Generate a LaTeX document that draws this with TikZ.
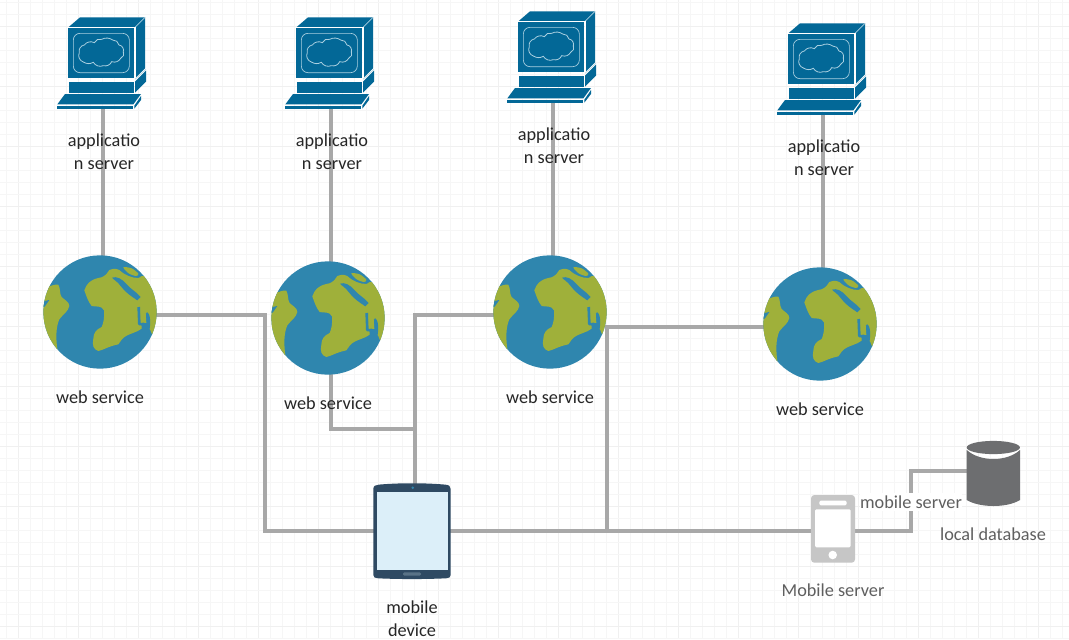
\documentclass[tikz,border=0pt]{standalone}
\usepackage{fontspec}
\setmainfont{Carlito}
\definecolor{gridminor}{HTML}{F6F6F6}
\definecolor{gridmajor}{HTML}{F0F0F0}
\definecolor{wire}{HTML}{A8A8A8}
\definecolor{pcblue}{HTML}{036897}
\definecolor{pcline}{HTML}{A9CFE0}
\definecolor{sea}{HTML}{2F86AE}
\definecolor{land}{HTML}{9FB03A}
\definecolor{tabframe}{HTML}{2F4A63}
\definecolor{tabscreen}{HTML}{DCEFF9}
\definecolor{tabbutton}{HTML}{5A7387}
\definecolor{phonegrey}{HTML}{C6C6C6}
\definecolor{dbgrey}{HTML}{6D6E70}
\definecolor{labelgrey}{HTML}{5F5F5F}
\tikzset{
  iconbox/.style={inner sep=0pt,outer sep=0pt,minimum width=#1*.75pt},
  wirepath/.style={draw=wire,line width=2.3pt,line join=miter},
  gridln/.style={draw=gridminor,line width=1pt},
  gridmj/.style={draw=gridmajor,line width=1pt},
  darklabel/.style={font=\fontsize{13.7pt}{17.25pt}\selectfont,text=black!85,align=center,inner sep=0pt},
  greylabel/.style={font=\fontsize{13.7pt}{17.25pt}\selectfont,text=labelgrey,align=center,inner sep=0pt},
}
\newcommand{\pcicon}[1]{%
\begin{scope}[shift={(#1.center)},x=.25pt,y=-.25pt,shift={(-189,-189)}]
  \fill[pcblue] (85,82)--(120,52)--(315,52)--(285,82)--cycle;
  \fill[pcblue] (285,82)--(315,52)--(315,205)--(285,235)--cycle;
  \fill[pcblue] (85,84) rectangle (283,235);
  \draw[pcline,line width=.5pt] (285,82)--(315,52);
  \draw[white,line width=.5pt] (85,82)--(285,82)--(285,235);
  \draw[pcline,line width=.5pt,rounded corners=5pt] (100,100) rectangle (268,218);
  \draw[pcline,line width=.6pt] (118,158) to[bend left=50] (133,135) to[bend left=40] (163,128) to[bend left=40] (185,118) to[bend left=30] (218,120) to[bend left=40] (237,135) to[bend left=50] (250,155) to[bend left=50] (242,175) to[bend left=40] (215,185) to[bend left=40] (190,197) to[bend left=40] (160,187) to[bend left=30] (130,186) to[bend left=50] (118,158);
  \fill[pcblue] (87,245) rectangle (283,278);
  \fill[pcblue] (285,245)--(318,212)--(318,245)--(285,278)--cycle;
  \draw[pcline,line width=.4pt] (285,238)--(318,208);
  \fill[pcblue] (52,313)--(75,282)--(303,282)--(280,313)--cycle;
  \fill[pcblue] (50,317) rectangle (280,326);
  \fill[pcblue] (283,317)--(303,288)--(303,300)--(283,326)--cycle;
\end{scope}}
\newcommand{\globeicon}[1]{%
\begin{scope}[shift={(#1.center)},x=.25pt,y=-.25pt,shift={(-210,-200)}]
  \fill[sea] (210,200) circle (170*.25pt);
  \begin{scope}
    \clip (210,200) circle (170*.25pt);
    \fill[land] (20,110)--(55,124) .. controls (68,120) and (78,116) .. (85,118)
      .. controls (92,130) and (88,145) .. (95,155)
      .. controls (105,165) and (118,170) .. (118,182)
      .. controls (115,198) and (98,208) .. (88,222)
      .. controls (78,245) and (76,280) .. (84,322)
      --(20,322)--cycle;
    \fill[sea] (30,170)--(58,164)--(44,184)--(30,186)--cycle;
    \fill[land] (400,92)--(335,92)--(326,98)
      .. controls (305,98) and (285,90) .. (268,74)
      .. controls (255,68) and (245,70) .. (238,74)
      .. controls (228,90) and (220,96) .. (205,98)
      .. controls (180,104) and (170,115) .. (163,135)
      .. controls (168,150) and (175,170) .. (185,182)
      .. controls (200,186) and (212,178) .. (222,195)
      .. controls (224,215) and (220,235) .. (215,245)
      .. controls (200,252) and (190,262) .. (190,280)
      .. controls (186,300) and (190,312) .. (205,317)
      .. controls (220,314) and (235,303) .. (265,297)
      .. controls (272,290) and (272,284) .. (282,276)
      .. controls (295,265) and (320,262) .. (335,250)
      --(360,252)--(368,272)--(400,300)--cycle;
    \fill[sea] (246,97) .. controls (260,92) and (275,100) .. (288,115) .. controls (300,130) and (320,140) .. (332,155) -- (322,165) .. controls (300,150) and (285,140) .. (272,122) .. controls (262,108) and (252,104) .. (246,97) -- cycle;
    \fill[land] plot[smooth cycle,tension=.5] coordinates {(280,66)(305,69)(325,85)(318,92)(296,84)};
    \draw[sea,line width=2pt,line join=round] (326,185)--(328,236)--(352,238)--(351,204);
    \fill[sea] (351,200) .. controls (362,205) and (362,235) .. (358,256)--(335,250)--(335,238)--cycle;
    \fill[land] (332,203)--(347,203)--(349,233)--(333,231)--cycle;
  \end{scope}
\end{scope}}
\begin{document}
\begin{tikzpicture}[x=.75pt,y=-.75pt]
\useasboundingbox (0,0) rectangle (1069,639);
\fill[white] (0,0) rectangle (1069,639);
\foreach \k in {0,...,89} {
  \pgfmathtruncatemacro{\m}{mod(\k,5)}
  \pgfmathsetmacro{\gx}{6.7+12*\k}
  \ifnum\m=1 \draw[gridmj] (\gx,0)--(\gx,639); \else \draw[gridln] (\gx,0)--(\gx,639); \fi
}
\foreach \k in {0,...,53} {
  \pgfmathtruncatemacro{\m}{mod(\k,5)}
  \pgfmathsetmacro{\gy}{2.7+12*\k}
  \ifnum\m=2 \draw[gridmj] (0,\gy)--(1069,\gy); \else \draw[gridln] (0,\gy)--(1069,\gy); \fi
}
% anchors of the icons
\foreach \n/\x/\y in {pc1/103/63,pc2/331/63,pc3/553/57,pc4/823/69}
  \node[iconbox=94,minimum height=69pt] (\n) at (\x,\y) {};
\foreach \n/\x/\y in {globe1/100/312,globe2/328/318,globe3/550/312,globe4/820/324}
  \node[iconbox=114,minimum height=85.5pt] (\n) at (\x,\y) {};
\node[iconbox=78,minimum height=71.25pt] (tablet) at (412,531) {};
\node[iconbox=44,minimum height=50.25pt] (phone) at (833,531) {};
\node[iconbox=54,minimum height=49.5pt] (db) at (993,473) {};
\coordinate (j1) at (265,315);
\coordinate (j2) at (415,429);
\coordinate (j3) at (415,315);
\coordinate (j4) at (607,327);
\coordinate (j5) at (607,531);
\coordinate (j6) at (911,531);
\coordinate (j7) at (911,471);
% connectors
\foreach \a/\b in {pc1/globe1,pc2/globe2,pc3/globe3,pc4/globe4}
  \draw[wirepath] (\a.south) -- (\a.south |- \b.center);
\draw[wirepath] (globe1.center |- j1) -- (j1) |- (tablet.center);
\draw[wirepath] (pc2.south |- globe2.center) |- (j2);
\draw[wirepath] (globe3.center |- j3) -- (j3) -- (j3 |- tablet.center);
\draw[wirepath] (tablet.center) -- (phone.center);
\draw[wirepath] (globe4.center |- j4) -- (j4) -- (j5);
\draw[wirepath] (phone.center) -- (j6) -- (j7) -- (db.center |- j7);
% icons
\foreach \n in {pc1,pc2,pc3,pc4} {\pcicon{\n}}
\foreach \n in {globe1,globe2,globe3,globe4} {\globeicon{\n}}
% tablet
\begin{scope}[shift={(tablet.center)},shift={(-412,-531)}]
  \fill[tabframe] (373.3,489) .. controls (373.3,485.5) and (376,485) .. (379,484.6)
     .. controls (400,482.8) and (424,482.8) .. (445,484.6)
     .. controls (449,485) and (450.7,486) .. (450.7,489)
     -- (450.7,575) .. controls (450.7,577.5) and (449,578) .. (446,578.3)
     .. controls (424,579.3) and (400,579.3) .. (378,578.3)
     .. controls (375,578) and (373.3,577.5) .. (373.3,575) -- cycle;
  \fill[tabscreen] (376.7,491.7) rectangle (447.7,570);
  \fill[sea] (412.7,487.7) circle (1pt);
  \fill[tabbutton,rounded corners=1pt] (403,572.3) rectangle (421,575.7);
\end{scope}
% phone
\begin{scope}[shift={(phone.center)},shift={(-833,-531)}]
  \fill[phonegrey,rounded corners=2.5pt] (811,495) rectangle (855,562.7);
  \fill[white,rounded corners=1pt] (819.3,500.7) rectangle (846.7,505.3);
  \fill[white,rounded corners=1pt] (815,509.3) rectangle (850.7,547.3);
  \fill[white] (832.7,555) circle (3.2pt);
\end{scope}
% database
\begin{scope}[shift={(db.center)},shift={(-993,-473)}]
  \fill[dbgrey] (966.7,450) .. controls (980,462) and (1007,462) .. (1020,450)
     -- (1020,500) .. controls (1007,508) and (980,508) .. (966.7,500) -- cycle;
  \fill[dbgrey] (993.3,447.5) ellipse (26.6*.75pt and 6.6*.75pt);
\end{scope}
% labels
\node[darklabel] (lab1) at (104,151.5) {applicatio\\n server};
\node[darklabel] (lab2) at (332,151.5) {applicatio\\n server};
\node[darklabel] (lab3) at (554,145.5) {applicatio\\n server};
\node[darklabel] (lab4) at (824,157.5) {applicatio\\n server};
\node[darklabel] (web1) at (100,397) {web service};
\node[darklabel] (web2) at (328,403) {web service};
\node[darklabel] (web3) at (550,397) {web service};
\node[darklabel] (web4) at (820,409) {web service};
\node[darklabel] (tablab) at (412,618.5) {mobile\\device};
\node[greylabel,fill=white,inner xsep=0pt,inner ysep=2pt] (wirelab) at (911,502) {mobile server};
\node[greylabel] (phonelab) at (833,590) {Mobile server};
\node[greylabel] (dblab) at (993,534) {local database};
\end{tikzpicture}
\end{document}
